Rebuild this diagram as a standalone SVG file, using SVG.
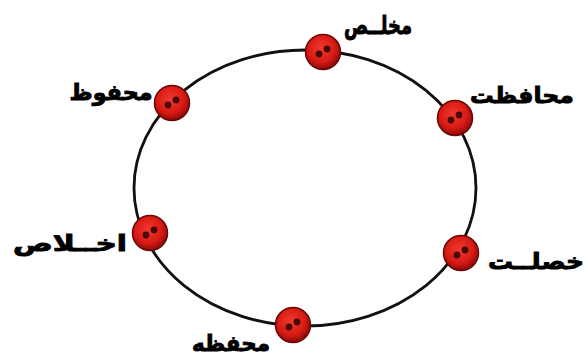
<svg xmlns="http://www.w3.org/2000/svg" width="586" height="363" viewBox="0 0 586 363">
<defs>
<radialGradient id="g" cx="45%" cy="40%" r="60%">
<stop offset="0" stop-color="#f03a2e"/>
<stop offset="0.65" stop-color="#d81a14"/>
<stop offset="1" stop-color="#8a0a08"/>
</radialGradient>
<g id="ball">
<circle r="17.5" fill="url(#g)" stroke="#6a0806" stroke-width="1.5"/>
<circle cx="-4" cy="2" r="3.4" fill="#4a0806"/>
<circle cx="4" cy="-3" r="3.4" fill="#4a0806"/>
</g>
</defs>
<style>
.lbl{font-family:"DejaVu Sans",sans-serif;font-weight:bold;font-size:22px;fill:#000;stroke:#000;stroke-width:0.9;text-anchor:middle}
</style>
<rect width="586" height="363" fill="#fff"/>
<g id="connectors">
<ellipse cx="305" cy="188" rx="171" ry="138" fill="none" stroke="#111" stroke-width="2.8"/>
</g>
<g id="n1"><use href="#ball" x="323" y="52"/><text class="lbl" x="378" y="34" style="font-size:25px" textLength="68" lengthAdjust="spacingAndGlyphs">مخلــص</text></g>
<g id="n2"><use href="#ball" x="455" y="118"/><text class="lbl" x="522" y="103" textLength="104" lengthAdjust="spacingAndGlyphs">محافظت</text></g>
<g id="n3"><use href="#ball" x="172" y="103"/><text class="lbl" x="111" y="100" textLength="83" lengthAdjust="spacingAndGlyphs">محفوظ</text></g>
<g id="n4"><use href="#ball" x="150" y="233"/><text class="lbl" x="70" y="251" textLength="114" lengthAdjust="spacingAndGlyphs">اخــلاص</text></g>
<g id="n5"><use href="#ball" x="461" y="253"/><text class="lbl" x="536" y="269" textLength="96" lengthAdjust="spacingAndGlyphs">خصلــت</text></g>
<g id="n6"><use href="#ball" x="293" y="325"/><text class="lbl" x="231" y="351" textLength="78" lengthAdjust="spacingAndGlyphs">محفظه</text></g>
</svg>
